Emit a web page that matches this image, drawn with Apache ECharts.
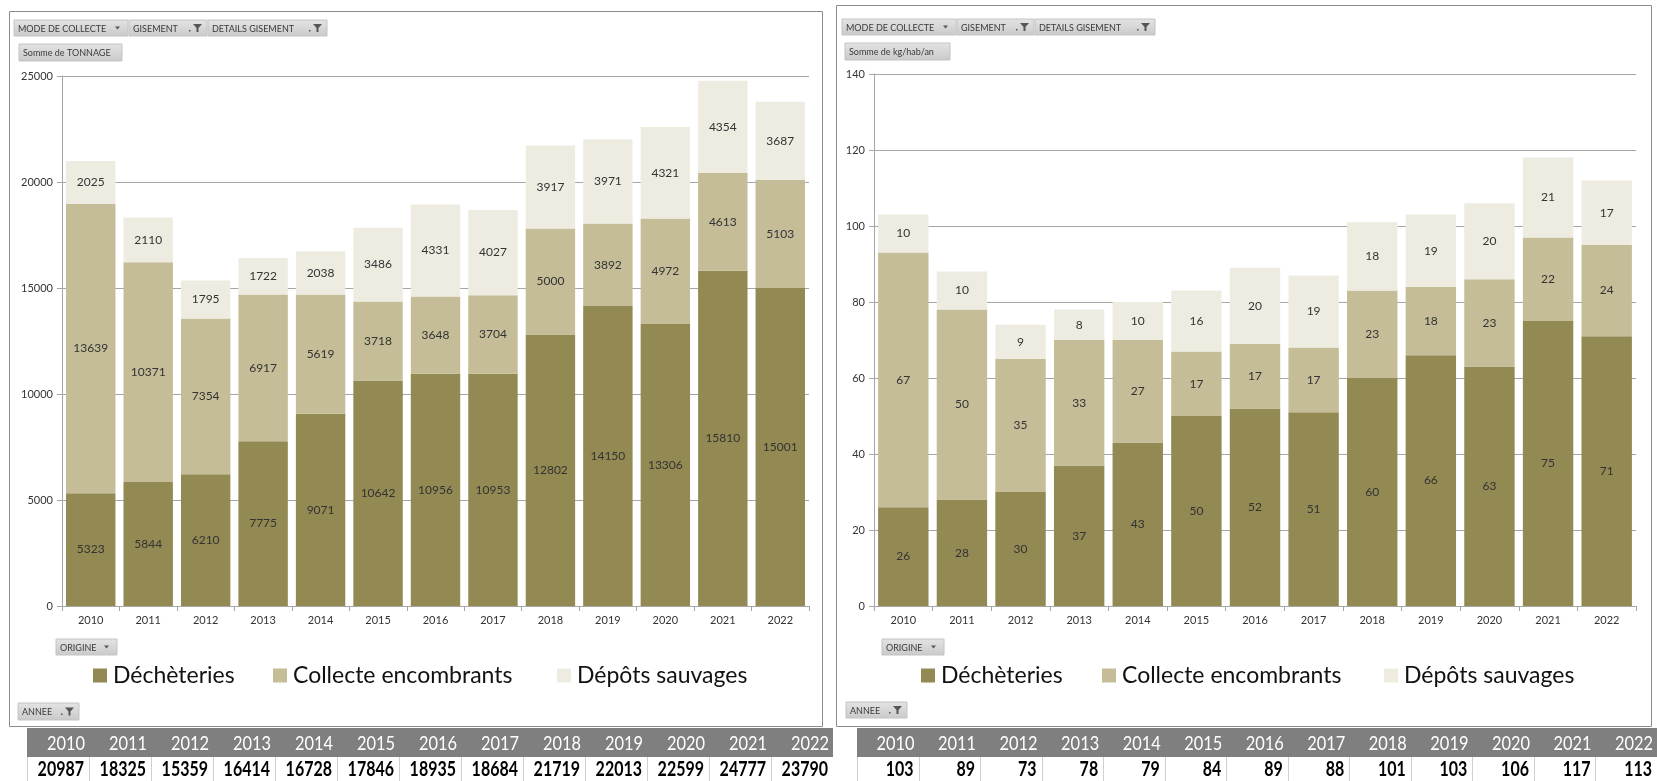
<!DOCTYPE html>
<html>
<head>
<meta charset="utf-8">
<script src="https://cdn.jsdelivr.net/npm/echarts@6/dist/echarts.min.js"></script>
<style>
html,body{margin:0;padding:0;background:#fff;}
#chart{width:1657px;height:781px;}
</style>
</head>
<body>
<div id="chart"></div>
<script>
// ---------- DATA ----------
const categories = ['2010','2011','2012','2013','2014','2015','2016','2017','2018','2019','2020','2021','2022'];
const seriesNames = ['Déchèteries','Collecte encombrants','Dépôts sauvages'];

// Left chart : Somme de TONNAGE
const tonDecheteries = [5323,5844,6210,7775,9071,10642,10956,10953,12802,14150,13306,15810,15001];
const tonCollecte    = [13639,10371,7354,6917,5619,3718,3648,3704,5000,3892,4972,4613,5103];
const tonDepots      = [2025,2110,1795,1722,2038,3486,4331,4027,3917,3971,4321,4354,3687];
const tonTotals      = [20987,18325,15359,16414,16728,17846,18935,18684,21719,22013,22599,24777,23790];
const tonAxis = {min:0, max:25000, interval:5000};

// Right chart : Somme de kg/hab/an
const kgDecheteries = [26,28,30,37,43,50,52,51,60,66,63,75,71];
const kgCollecte    = [67,50,35,33,27,17,17,17,23,18,23,22,24];
const kgDepots      = [10,10,9,8,10,16,20,19,18,19,20,21,17];
const kgTotals      = [103,89,73,78,79,84,89,88,101,103,106,117,113];
const kgAxis = {min:0, max:140, interval:20};

// ---------- STYLE ----------
const colors = ['#938953','#C4BD97','#EEECE1'];
const FONT = 'Lato, "Open Sans", sans-serif';
const gridColor = '#A6A6A6';

const chart = echarts.init(document.getElementById('chart'), null, {renderer:'canvas'});

function mkSeries(name, data, idx, axisIdx){
  return {
    name: name, type:'bar', stack:'s'+axisIdx, data:data,
    xAxisIndex:axisIdx, yAxisIndex:axisIdx,
    barCategoryGap:'14%',
    itemStyle:{color:colors[idx]},
    label:{show:true, position:'inside', color:'#333', fontFamily:FONT, fontSize:12},
    emphasis:{disabled:true},
    animation:false
  };
}

function mkX(gi){
  return {
    type:'category', data:categories, gridIndex:gi,
    axisLine:{show:true, lineStyle:{color:gridColor, width:1}},
    axisTick:{show:true, length:5, lineStyle:{color:gridColor}},
    axisLabel:{color:'#333', fontFamily:FONT, fontSize:11, margin:9}
  };
}
function mkY(gi, ax){
  return {
    type:'value', gridIndex:gi, min:ax.min, max:ax.max, interval:ax.interval,
    axisLine:{show:true, lineStyle:{color:gridColor, width:1}},
    axisTick:{show:true, length:5, lineStyle:{color:gridColor}},
    axisLabel:{color:'#333', fontFamily:FONT, fontSize:11, margin:9, formatter:function(v){return String(v);}},
    splitLine:{show:true, lineStyle:{color:gridColor, width:1.2}}
  };
}

// legends: one component per item to match the spacing
const legendLefts = [[93,273,557],[921,1102,1384]];
const legends = [];
legendLefts.forEach(function(arr){
  arr.forEach(function(x,i){
    legends.push({
      data:[seriesNames[i]], left:x, top:664, padding:0,
      icon:'rect', itemWidth:14, itemHeight:14, selectedMode:false,
      textStyle:{fontFamily:FONT, fontSize:23, color:'#111', padding:[0,0,0,1]}
    });
  });
});

// ---------- GRAPHIC (frames, pivot buttons, table) ----------
const g = [];
function frame(x,y,w,h){
  g.push({type:'rect', shape:{x:x,y:y,width:w,height:h}, style:{fill:'none', stroke:'#8C8C8C', lineWidth:1}, silent:true});
}
function sText(x,y,text,font,fill,align,sx){
  g.push({type:'text', x:x, y:y, scaleX:sx, originX:0, originY:0,
    style:{text:text, fill:fill, font:font, textAlign:align, verticalAlign:'middle'}, silent:true});
}
function button(x1,x2,y1,y2,label,icon){
  g.push({type:'rect', shape:{x:x1,y:y1,width:x2-x1,height:y2-y1},
    style:{fill:{type:'linear',x:0,y:0,x2:0,y2:1,colorStops:[{offset:0,color:'#E4E4E4'},{offset:1,color:'#C9C9C9'}]}, stroke:'#C4C4C4', lineWidth:1}, silent:true});
  sText(x1+4,(y1+y2)/2+0.5,label,'10px '+FONT,'#3A3A3A','left',0.9);
  const cy=(y1+y2)/2;
  if(icon==='drop'){
    const ax=x2-13;
    g.push({type:'polygon', shape:{points:[[ax,cy-1.5],[ax+5,cy-1.5],[ax+2.5,cy+1.5]]}, style:{fill:'#555'}, silent:true});
  } else if(icon==='filter'){
    const fx=x2-14;
    g.push({type:'rect', shape:{x:fx-4,y:cy+2,width:1.5,height:1.5}, style:{fill:'#555'}, silent:true});
    g.push({type:'polygon', shape:{points:[[fx,cy-4],[fx+9,cy-4],[fx+5.5,cy],[fx+5.5,cy+4],[fx+3.5,cy+4],[fx+3.5,cy]]}, style:{fill:'#555'}, silent:true});
  }
}
function table(x0, colW, years, totals){
  const yH=728, hH=29, yN=757, nH=24;
  g.push({type:'rect', shape:{x:x0,y:yH,width:colW*years.length,height:hH}, style:{fill:'#7F7F7F'}, silent:true});
  years.forEach(function(yr,i){
    const xr = x0 + colW*(i+1);
    sText(xr-4, yH+hH/2+1, yr, '20px '+FONT, '#fff', 'right', 0.82);
    sText(xr-5, yN+nH/2+1, String(totals[i]), 'bold 20px '+FONT, '#000', 'right', 0.8);
    g.push({type:'line', shape:{x1:Math.round(xr-colW)+0.5,y1:yN,x2:Math.round(xr-colW)+0.5,y2:781}, style:{stroke:'#D0D0D0', lineWidth:1}, silent:true});
  });
}

frame(9.5,11.5,813,715);
frame(836.5,5.5,815,721);

button(14,128,20,36,'MODE DE COLLECTE','drop');
button(129,207,20,36,'GISEMENT','filter');
button(208,327,20,36,'DETAILS GISEMENT','filter');
button(19,122,44,61,'Somme de TONNAGE',null);
button(56,117,639,655,'ORIGINE','drop');
button(18,79,703,720,'ANNEE','filter');

button(842,956,19,35,'MODE DE COLLECTE','drop');
button(957,1034,19,35,'GISEMENT','filter');
button(1035,1155,19,35,'DETAILS GISEMENT','filter');
button(845,950,43,60,'Somme de kg/hab/an',null);
button(882,944,639,655,'ORIGINE','drop');
button(846,907,702,718,'ANNEE','filter');

table(27, 62, categories, tonTotals);
table(857, 61.54, categories, kgTotals);

const option = {
  animation:false,
  backgroundColor:'#fff',
  textStyle:{fontFamily:FONT},
  grid:[
    {left:62, top:76, width:747, height:530, containLabel:false},
    {left:874, top:74, width:762, height:532, containLabel:false}
  ],
  xAxis:[mkX(0), mkX(1)],
  yAxis:[mkY(0,tonAxis), mkY(1,kgAxis)],
  legend:legends,
  tooltip:{show:false},
  series:[
    mkSeries(seriesNames[0], tonDecheteries, 0, 0),
    mkSeries(seriesNames[1], tonCollecte, 1, 0),
    mkSeries(seriesNames[2], tonDepots, 2, 0),
    mkSeries(seriesNames[0], kgDecheteries, 0, 1),
    mkSeries(seriesNames[1], kgCollecte, 1, 1),
    mkSeries(seriesNames[2], kgDepots, 2, 1)
  ],
  graphic:g
};
chart.setOption(option);
</script>
</body>
</html>
